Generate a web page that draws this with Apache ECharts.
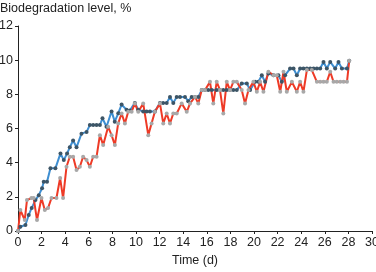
<!DOCTYPE html>
<html>
<head>
<meta charset="utf-8">
<script src="https://cdn.jsdelivr.net/npm/echarts@6/dist/echarts.min.js"></script>
<style>
  html, body { margin: 0; padding: 0; background: #fff; }
  #chart { width: 376px; height: 272px; }
</style>
</head>
<body>
<div id="chart"></div>
<script>
// blue series (dark markers)
var blueDays = [0, 0.2, 0.63, 0.91, 1.16, 1.48, 1.76, 2.04, 2.18, 2.46, 2.75, 3.17, 3.6, 3.88, 4.16, 4.39, 4.67, 4.96, 5.38, 5.81, 6.09, 6.37, 6.66, 6.94, 7.16, 7.5, 7.93, 8.2, 8.5, 8.78, 9.2, 9.48, 9.9, 10.19, 10.61, 10.9, 11.18, 11.6, 12.03, 12.3, 12.6, 12.88, 13.16, 13.45, 13.73, 14.15, 14.43, 14.72, 15.0, 15.28, 15.57, 15.85, 16.13, 16.42, 16.84, 17.12, 17.4, 17.69, 17.97, 18.25, 18.54, 18.96, 19.39, 19.67, 20.09, 20.37, 20.66, 20.94, 21.22, 21.65, 22.07, 22.36, 22.64, 23.06, 23.35, 23.63, 23.91, 24.19, 24.48, 24.76, 25.05, 25.33, 25.61, 25.89, 26.17, 26.46, 26.88, 27.16, 27.45, 27.88, 28.07];
var blueVals = [0, 0.25, 0.35, 0.94, 1.35, 1.81, 2.1, 2.5, 2.88, 2.88, 3.67, 3.67, 4.54, 4.15, 4.54, 4.9, 5.3, 4.9, 5.7, 5.8, 6.2, 6.2, 6.2, 6.2, 6.6, 6.1, 7.0, 6.4, 6.9, 7.4, 7.1, 7.05, 7.5, 7.1, 7.0, 7.0, 7.0, 7.0, 7.5, 7.5, 7.5, 7.85, 7.5, 7.85, 7.85, 7.85, 7.6, 7.85, 7.85, 7.85, 8.25, 8.25, 8.25, 8.25, 8.25, 8.25, 8.25, 8.25, 8.25, 8.25, 8.25, 8.64, 8.64, 8.25, 8.73, 8.73, 9.12, 8.73, 9.22, 9.12, 9.12, 8.73, 9.12, 9.51, 9.51, 9.12, 9.51, 9.51, 9.51, 9.51, 9.51, 9.51, 9.51, 9.9, 9.51, 9.9, 9.51, 9.9, 9.51, 9.51, 9.96];

// red series (grey markers)
var redDays = [0, 0.2, 0.57, 0.76, 1.14, 1.33, 1.61, 1.99, 2.27, 2.55, 2.84, 3.26, 3.57, 3.82, 4.11, 4.39, 4.67, 4.96, 5.24, 5.52, 5.81, 6.09, 6.37, 6.66, 6.94, 7.22, 7.64, 7.93, 8.21, 8.49, 8.78, 9.06, 9.34, 9.63, 9.9, 10.19, 10.61, 11.04, 11.32, 11.6, 12.03, 12.31, 12.6, 12.88, 13.16, 13.45, 13.87, 14.3, 14.58, 15.0, 15.28, 15.57, 15.85, 16.27, 16.55, 16.84, 17.12, 17.4, 17.69, 17.97, 18.25, 18.54, 18.96, 19.24, 19.53, 19.95, 20.24, 20.52, 20.8, 21.22, 21.65, 21.93, 22.22, 22.5, 22.78, 23.21, 23.63, 23.91, 24.19, 24.48, 24.9, 25.33, 25.61, 25.89, 26.17, 26.46, 26.74, 27.02, 27.31, 27.59, 27.88, 28.07];
var redVals = [0, 1.23, 0.64, 1.81, 1.93, 1.93, 0.64, 1.93, 1.23, 1.35, 1.93, 1.93, 3.1, 1.93, 3.76, 4.35, 4.35, 3.57, 3.76, 4.35, 4.15, 3.76, 4.35, 4.35, 5.61, 5.03, 6.1, 5.61, 5.03, 6.3, 6.88, 6.3, 6.98, 6.98, 7.47, 6.98, 7.47, 5.61, 6.3, 6.98, 7.47, 6.3, 6.88, 6.3, 6.88, 6.88, 7.47, 6.98, 7.47, 7.85, 7.47, 8.25, 8.25, 8.73, 7.47, 8.73, 8.25, 6.88, 8.73, 8.25, 8.73, 8.73, 8.25, 7.47, 8.25, 8.73, 8.15, 8.73, 8.15, 9.32, 9.12, 9.12, 8.15, 9.32, 8.15, 8.73, 8.15, 8.73, 8.15, 9.42, 9.42, 8.73, 8.73, 8.73, 8.73, 9.32, 8.73, 8.73, 8.73, 8.73, 8.73, 9.96];

function pairs(xs, ys) {
  var out = [];
  for (var i = 0; i < xs.length; i++) out.push([xs[i], ys[i]]);
  return out;
}

var chart = echarts.init(document.getElementById('chart'));
var font = 'Liberation Sans, Arial, sans-serif';
chart.setOption({
  animation: false,
  title: {
    text: 'Biodegradation level, %',
    left: 0,
    top: 2,
    padding: 0,
    textStyle: { fontFamily: font, fontSize: 12.5, fontWeight: 'normal', color: '#222' }
  },
  grid: { left: 18, right: 4, top: 26, bottom: 41, containLabel: false, outerBoundsMode: 'none' },
  xAxis: {
    type: 'value',
    min: 0,
    max: 30,
    interval: 2,
    name: 'Time (d)',
    nameLocation: 'middle',
    nameGap: 23,
    nameTextStyle: { fontFamily: font, fontSize: 12.5, color: '#222' },
    axisLine: { lineStyle: { color: '#222', width: 1 } },
    axisTick: { length: 3, lineStyle: { color: '#222' } },
    axisLabel: { fontFamily: font, fontSize: 12.5, color: '#222', margin: 5, showMaxLabel: true, hideOverlap: false },
    splitLine: { show: false }
  },
  yAxis: {
    type: 'value',
    min: 0,
    max: 12,
    interval: 2,
    axisLine: { show: true, lineStyle: { color: '#222', width: 1 } },
    axisTick: { show: true, length: 3, lineStyle: { color: '#222' } },
    axisLabel: { fontFamily: font, fontSize: 12.5, color: '#222', margin: 5 },
    splitLine: { show: false }
  },
  series: [
    {
      type: 'line',
      data: pairs(blueDays, blueVals),
      symbol: 'circle',
      symbolSize: 4,
      lineStyle: { color: '#3f8fd2', width: 2 },
      itemStyle: { color: '#3d5566' }
    },
    {
      type: 'line',
      data: pairs(redDays, redVals),
      symbol: 'circle',
      symbolSize: 4,
      lineStyle: { color: '#ee3a26', width: 2 },
      itemStyle: { color: '#a8a8a8' }
    }
  ]
});
</script>
</body>
</html>
